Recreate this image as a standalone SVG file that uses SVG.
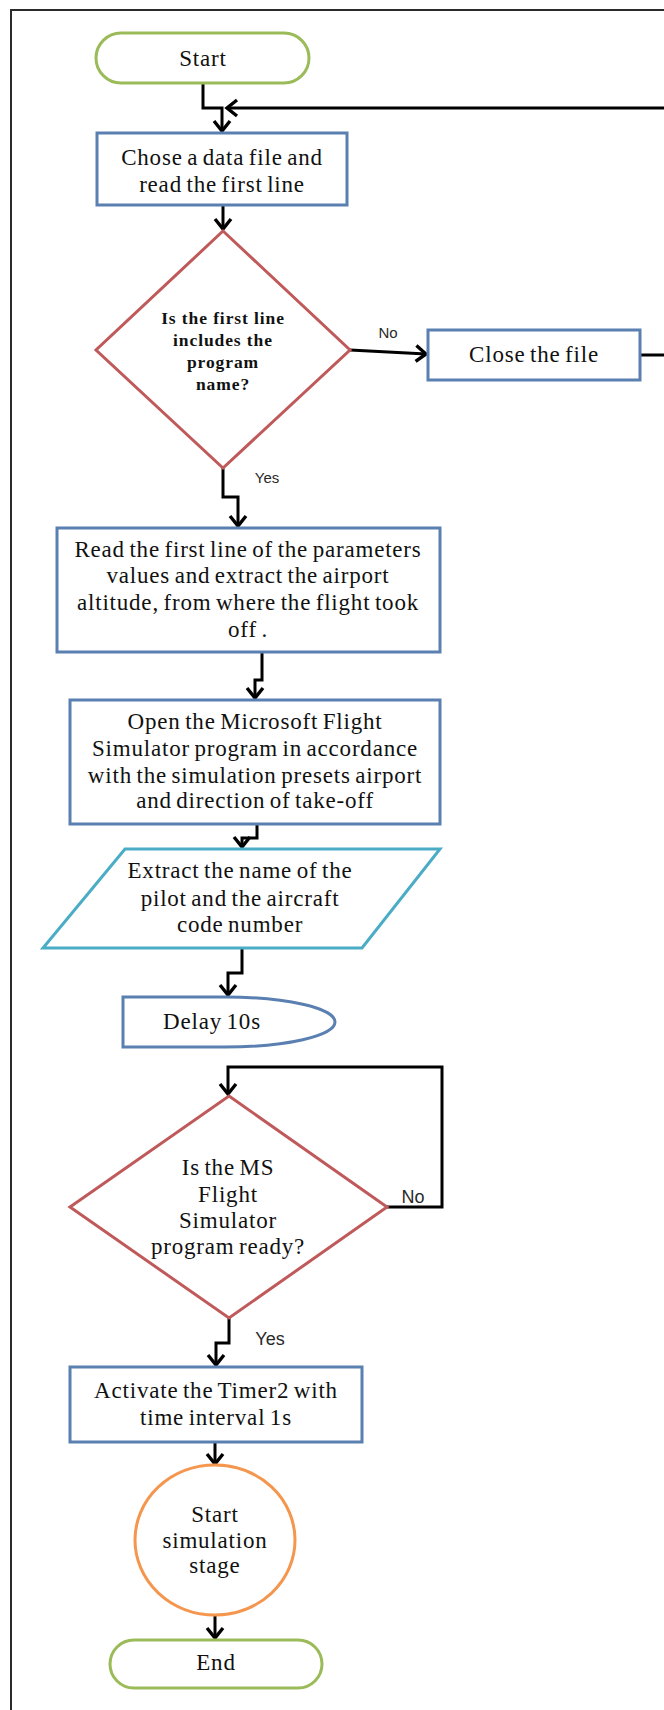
<svg xmlns="http://www.w3.org/2000/svg" width="664" height="1710" viewBox="0 0 664 1710">
  <defs>
    <style>
      .t { font-family: "Liberation Serif", "Times New Roman", serif; font-size: 23px; fill: #111111; text-anchor: middle; letter-spacing: 0.8px; word-spacing: -2px; }
      .tb { font-family: "Liberation Serif", "Times New Roman", serif; font-size: 17.5px; font-weight: bold; fill: #111111; text-anchor: middle; letter-spacing: 0.9px; }
      .lbl { font-family: "Liberation Sans", Arial, sans-serif; fill: #2a2a2a; text-anchor: middle; }
      .proc { fill: #ffffff; stroke: #5a7fb1; stroke-width: 3; }
      .term { fill: #ffffff; stroke: #9bbb59; stroke-width: 3; }
      .dec { fill: #ffffff; stroke: #c0595a; stroke-width: 3; }
      .io { fill: #ffffff; stroke: #4aacc5; stroke-width: 3; }
      .conn { fill: #ffffff; stroke: #f4964e; stroke-width: 3; }
      .wire { fill: none; stroke: #000000; stroke-width: 3; }
      .frame { fill: none; stroke: #2b2b2b; stroke-width: 2; }
    </style>
    <marker id="arrow" markerUnits="userSpaceOnUse" markerWidth="26" markerHeight="26" viewBox="-15 -13 19 26" refX="0" refY="0" orient="auto">
      <path d="M-10,-8 L0,0 L-10,8" fill="none" stroke="#000000" stroke-width="3.4"/>
    </marker>
  </defs>

  <rect x="0" y="0" width="664" height="1710" fill="#ffffff"/>
  <path class="frame" d="M11,1710 V10 H664"/>

  <!-- connectors -->
  <g id="connectors">
    <path class="wire" d="M203,83 V108 H222 V131" marker-end="url(#arrow)"/>
    <path class="wire" d="M670,108 H227" marker-end="url(#arrow)"/>
    <path class="wire" d="M640,355 H670"/>
    <path class="wire" d="M223,205 V229" marker-end="url(#arrow)"/>
    <path class="wire" d="M350,350 L426,354" marker-end="url(#arrow)"/>
    <path class="wire" d="M223,468 V497 H238 V526" marker-end="url(#arrow)"/>
    <path class="wire" d="M262,652 V680 H255 V698" marker-end="url(#arrow)"/>
    <path class="wire" d="M257,824 V838 H242 V847" marker-end="url(#arrow)"/>
    <path class="wire" d="M242,948 V973 H228 V995" marker-end="url(#arrow)"/>
    <path class="wire" d="M387,1207 H442 V1067 H228 V1094" marker-end="url(#arrow)"/>
    <path class="wire" d="M229,1318 V1343 H216 V1365" marker-end="url(#arrow)"/>
    <path class="wire" d="M215,1442 V1464" marker-end="url(#arrow)"/>
    <path class="wire" d="M215,1615 V1638" marker-end="url(#arrow)"/>
    <text class="lbl" x="388" y="338" font-size="15">No</text>
    <text class="lbl" x="267" y="483" font-size="15">Yes</text>
    <text class="lbl" x="413" y="1203" font-size="18">No</text>
    <text class="lbl" x="270" y="1345" font-size="18">Yes</text>
  </g>

  <g id="start">
    <rect class="term" x="96" y="33" width="213" height="50" rx="25"/>
    <text class="t" x="203" y="66">Start</text>
  </g>

  <g id="choose-file">
    <rect class="proc" x="97" y="133" width="250" height="72"/>
    <text class="t" x="222" y="165">Chose a data file and</text>
    <text class="t" x="222" y="192">read the first line</text>
  </g>

  <g id="check-name">
    <polygon class="dec" points="223,231 350,350 223,468 96,350"/>
    <text class="tb" x="223" y="324">Is the first line</text>
    <text class="tb" x="223" y="346">includes the</text>
    <text class="tb" x="223" y="368">program</text>
    <text class="tb" x="223" y="390">name?</text>
  </g>

  <g id="close-file">
    <rect class="proc" x="428" y="330" width="212" height="50"/>
    <text class="t" x="534" y="362">Close the file</text>
  </g>

  <g id="read-params">
    <rect class="proc" x="57" y="528" width="383" height="124"/>
    <text class="t" x="248" y="557">Read the first line of the parameters</text>
    <text class="t" x="248" y="583">values and extract the airport</text>
    <text class="t" x="248" y="610">altitude, from where the flight took</text>
    <text class="t" x="248" y="637">off .</text>
  </g>

  <g id="open-simulator">
    <rect class="proc" x="70" y="700" width="370" height="124"/>
    <text class="t" x="255" y="729">Open the Microsoft Flight</text>
    <text class="t" x="255" y="756">Simulator program in accordance</text>
    <text class="t" x="255" y="783">with the simulation presets airport</text>
    <text class="t" x="255" y="808">and direction of take-off</text>
  </g>

  <g id="extract-pilot">
    <polygon class="io" points="125,849 440,849 362,948 43,948"/>
    <text class="t" x="240" y="878">Extract the name of the</text>
    <text class="t" x="240" y="906">pilot and the aircraft</text>
    <text class="t" x="240" y="932">code number</text>
  </g>

  <g id="delay">
    <path class="proc" d="M123,997 H225 A110,25 0 0 1 225,1047 H123 Z"/>
    <text class="t" x="212" y="1029">Delay 10s</text>
  </g>

  <g id="check-ready">
    <polygon class="dec" points="229,1096 387,1207 229,1318 70,1207"/>
    <text class="t" x="228" y="1175">Is the MS</text>
    <text class="t" x="228" y="1202">Flight</text>
    <text class="t" x="228" y="1228">Simulator</text>
    <text class="t" x="228" y="1254">program ready?</text>
  </g>

  <g id="activate-timer">
    <rect class="proc" x="70" y="1367" width="292" height="75"/>
    <text class="t" x="216" y="1398">Activate the Timer2 with</text>
    <text class="t" x="216" y="1425">time interval 1s</text>
  </g>

  <g id="simulation-stage">
    <ellipse class="conn" cx="215" cy="1540" rx="80" ry="75"/>
    <text class="t" x="215" y="1522">Start</text>
    <text class="t" x="215" y="1548">simulation</text>
    <text class="t" x="215" y="1573">stage</text>
  </g>

  <g id="end">
    <rect class="term" x="110" y="1640" width="212" height="48" rx="24"/>
    <text class="t" x="216" y="1670">End</text>
  </g>
</svg>
